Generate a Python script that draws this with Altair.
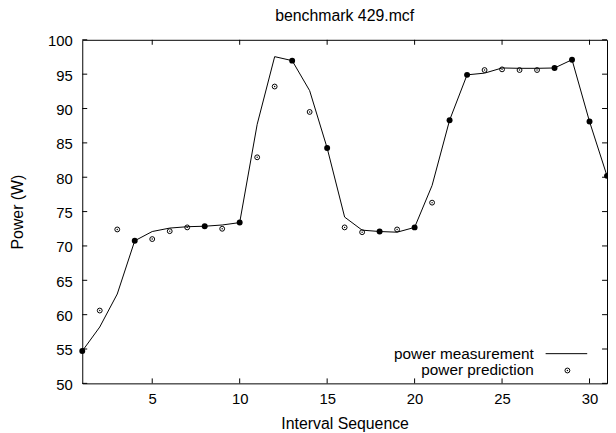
import altair as alt
import pandas as pd

# ---- data ----
interval = list(range(1, 32))
measurement = [54.7, 58.2, 63.0, 70.75, 72.1, 72.6, 72.8, 72.87, 73.05, 73.4,
               87.7, 97.55, 96.97, 92.6, 84.25, 74.2, 72.3, 72.1, 72.0, 72.7,
               78.8, 88.3, 94.9, 95.15, 95.9, 95.85, 95.85, 95.9, 97.1, 88.1, 80.2]
sampled_intervals = [1, 4, 8, 10, 13, 15, 18, 20, 22, 23, 28, 29, 30, 31]
predicted_intervals = [2, 3, 5, 6, 7, 9, 11, 12, 14, 16, 17, 19, 21, 24, 25, 26, 27]
prediction = [60.6, 72.4, 71.0, 72.15, 72.7, 72.5, 82.9, 93.2, 89.5, 72.7,
              72.0, 72.4, 76.3, 95.6, 95.7, 95.6, 95.6]
x_ticks = [5, 10, 15, 20, 25, 30]
y_ticks = [50, 55, 60, 65, 70, 75, 80, 85, 90, 95, 100]
legend_labels = ["power measurement", "power prediction"]
title_text = "benchmark 429.mcf"
x_title = "Interval Sequence"
y_title = "Power (W)"

W, H = 530, 347
FONT = "Liberation Sans"
TICK = 5

meas_df = pd.DataFrame({"interval": interval, "power": measurement})
samp_df = meas_df[meas_df["interval"].isin(sampled_intervals)]
pred_df = pd.DataFrame({"interval": predicted_intervals, "power": prediction})
xt_df = pd.DataFrame({"interval": x_ticks})
yt_df = pd.DataFrame({"power": y_ticks})

xscale = alt.Scale(domain=[1, 31], nice=False, zero=False)
yscale = alt.Scale(domain=[50, 100], nice=False, zero=False)

X = alt.X("interval:Q", scale=xscale, title=x_title,
          axis=alt.Axis(values=x_ticks, ticks=False, tickSize=0, domain=False,
                        grid=False, labelPadding=8, titlePadding=10,
                        labelFlush=False))
Y = alt.Y("power:Q", scale=yscale, title=y_title,
          axis=alt.Axis(values=y_ticks, ticks=False, tickSize=0, domain=False,
                        grid=False, labelPadding=10, titlePadding=22,
                        labelOffset=1, labelFlush=False))

line = alt.Chart(meas_df).mark_line(color="black", strokeWidth=1).encode(x=X, y=Y)

filled = alt.Chart(samp_df).mark_point(filled=True, shape="circle", size=36,
                                       color="black", opacity=1).encode(x=X, y=Y)

pred_ring = alt.Chart(pred_df).mark_point(filled=False, shape="circle", size=24,
                                          color="black", strokeWidth=1,
                                          opacity=1).encode(x=X, y=Y)
pred_dot = alt.Chart(pred_df).mark_point(filled=True, shape="circle", size=2,
                                         color="black", opacity=1).encode(x=X, y=Y)

# inward ticks on all four sides (gnuplot style)
xt_bottom = alt.Chart(xt_df).mark_rule(color="black", strokeWidth=1).encode(
    x=X, y=alt.value(H), y2=alt.value(H - TICK))
xt_top = alt.Chart(xt_df).mark_rule(color="black", strokeWidth=1).encode(
    x=X, y=alt.value(0), y2=alt.value(TICK))
yt_left = alt.Chart(yt_df).mark_rule(color="black", strokeWidth=1).encode(
    y=Y, x=alt.value(0), x2=alt.value(TICK))
yt_right = alt.Chart(yt_df).mark_rule(color="black", strokeWidth=1).encode(
    y=Y, x=alt.value(W - TICK), x2=alt.value(W))

# legend (gnuplot style: label right-aligned, sample on the right)
lg1 = pd.DataFrame({"label": [legend_labels[0]]})
lg2 = pd.DataFrame({"label": [legend_labels[1]]})
leg_text1 = alt.Chart(lg1).mark_text(align="right", baseline="middle", font=FONT,
                                     fontSize=15.5, color="black").encode(
    text="label:N", x=alt.value(456), y=alt.value(317))
leg_text2 = alt.Chart(lg2).mark_text(align="right", baseline="middle", font=FONT,
                                     fontSize=15.5, color="black").encode(
    text="label:N", x=alt.value(456), y=alt.value(334))
leg_line = alt.Chart(lg1).mark_rule(color="black", strokeWidth=1).encode(
    x=alt.value(468), x2=alt.value(510), y=alt.value(317))
leg_ring = alt.Chart(lg2).mark_point(filled=False, shape="circle", size=24,
                                     color="black", strokeWidth=1, opacity=1).encode(
    x=alt.value(490), y=alt.value(334))
leg_dot = alt.Chart(lg2).mark_point(filled=True, shape="circle", size=2,
                                    color="black", opacity=1).encode(
    x=alt.value(490), y=alt.value(334))

chart = alt.layer(
    line, xt_bottom, xt_top, yt_left, yt_right, filled, pred_ring, pred_dot,
    leg_text1, leg_text2, leg_line, leg_ring, leg_dot,
).properties(
    width=W, height=H,
    title=alt.TitleParams(title_text, font=FONT, fontSize=16, fontWeight="normal",
                          color="black", anchor="middle", offset=10),
    autosize=alt.AutoSizeParams(type="none"),
    padding={"left": 75, "top": 30, "right": 1, "bottom": 48},
).configure_view(
    stroke="black", strokeWidth=1
).configure_axis(
    labelFont=FONT, labelFontSize=15, labelColor="black",
    titleFont=FONT, titleFontSize=16, titleColor="black", titleFontWeight="normal",
)

chart.save("out.html", embed_options={"renderer": "svg", "actions": False})
